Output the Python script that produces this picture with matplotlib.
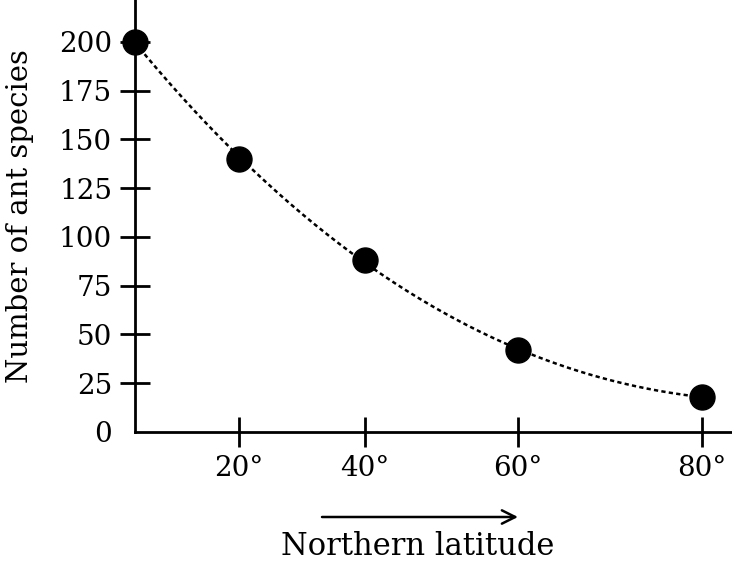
import numpy as np
import matplotlib.pyplot as plt

# latitude (degrees north) and number of ant species
latitude = [0, 20, 40, 60, 80]
species = [200, 140, 88, 42, 18]

x_ticks = [20, 40, 60, 80]
x_tick_labels = ["20°", "40°", "60°", "80°"]
y_ticks = [0, 25, 50, 75, 100, 125, 150, 175, 200]

# the drawn latitude axis is stretched: each 20° step is ~1.21x wider than the last
step = 1.21


def forward(x):
    return step ** (np.asarray(x) / 20.0)


def inverse(t):
    return 20.0 * np.log(np.asarray(t)) / np.log(step)


plt.rcParams["font.family"] = ["DejaVu Serif"]

fig = plt.figure(figsize=(7.32, 5.63), dpi=100)
ax = fig.add_axes([135 / 732, 131 / 563, 1 - 135 / 732, 1 - 131 / 563])
ax.set_xscale("function", functions=(forward, inverse))

# smooth trend line fitted in the stretched coordinate
t = forward(latitude)
coef = np.polyfit(t, species, 3)
lat_fine = np.linspace(latitude[0], latitude[-1], 200)
ax.plot(lat_fine, np.polyval(coef, forward(lat_fine)), color="black",
        linestyle=(0, (1.7, 1.3)), linewidth=1.8, zorder=2)
ax.plot(latitude, species, "o", color="black", markersize=18, zorder=3,
        clip_on=False)

ax.set_xlim(0, 82.9)
ax.set_ylim(0, 221.5)

ax.spines[["top", "right"]].set_visible(False)
ax.spines[["left", "bottom"]].set_linewidth(2)

ax.set_xticks(x_ticks)
ax.set_xticklabels(x_tick_labels)
ax.set_yticks(y_ticks)
ax.tick_params(axis="both", direction="inout", length=21, width=2, labelsize=20)
ax.tick_params(axis="x", pad=6)
ax.tick_params(axis="y", pad=6)
ax.yaxis.get_major_ticks()[0].tick1line.set_visible(False)

ax.set_ylabel("Number of ant species", fontsize=21)
ax.yaxis.set_label_coords(-0.170, 0.5)

# arrow and caption under the latitude axis
ax.annotate("", xy=(518 / 732, 1 - 517 / 563), xytext=(322 / 732, 1 - 517 / 563),
            xycoords="figure fraction", textcoords="figure fraction",
            arrowprops=dict(arrowstyle="->", color="black", lw=1.8,
                            mutation_scale=24, shrinkA=0, shrinkB=0))
fig.text(418 / 732, 1 - 555 / 563, "Northern latitude", ha="center",
         va="baseline", fontsize=22)

fig.savefig("out.png", dpi=100)
